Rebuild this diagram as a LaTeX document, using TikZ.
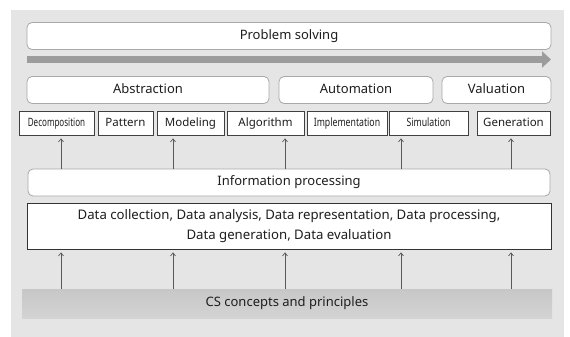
\documentclass[tikz,border=0pt]{standalone}
\usepackage{fontspec}
\setmainfont{Noto Sans}
\newfontfamily\narrowfont[FakeStretch=0.76]{Noto Sans}
\newfontfamily\narrowerfont[FakeStretch=0.70]{Noto Sans}
\usetikzlibrary{arrows.meta}

\definecolor{panelgrey}{HTML}{E5E5E5}
\definecolor{boxline}{HTML}{A8A8A8}
\definecolor{bandgrey}{HTML}{9C9C9C}
\definecolor{textgrey}{HTML}{1E1E1E}

\tikzset{
  roundbox/.style={draw=boxline, fill=white, rounded corners=5pt, line width=0.8pt,
    inner sep=0pt, minimum height=27pt, text height=9.5pt, text depth=3pt,
    text=textgrey, font=\fontsize{13}{15}\selectfont},
  smallbox/.style={draw=black!75, fill=white, line width=0.7pt, inner sep=0pt,
    minimum height=24pt, text height=8.5pt, text depth=2.5pt,
    text=textgrey, font=\fontsize{11.5}{13}\selectfont},
  uparrow/.style={draw=black!65, line width=0.7pt,
    -{Straight Barb[length=3pt,width=5pt]}, shorten >=3pt}
}

\begin{document}
\begin{tikzpicture}[x=1pt,y=-1pt]
  \useasboundingbox (0,0) rectangle (570,337);
  \fill[white] (0,0) rectangle (570,337);
  \fill[panelgrey] (11,10) rectangle (564,337);

  % top
  \node[roundbox, minimum width=524pt] (problem) at (289,36) {Problem solving};
  \coordinate (bandL) at (27,59.5);
  \coordinate (bandR) at (551,59.5);
  \draw[bandgrey, line width=7pt, -{Triangle[width=16pt,length=9pt]}] (bandL) -- (bandR);

  % categories
  \node[roundbox, minimum width=242pt] (abstr) at (148,90) {Abstraction};
  \node[roundbox, minimum width=154pt] (autom) at (356,90) {Automation};
  \node[roundbox, minimum width=109pt] (valu) at (496.5,90) {Valuation};

  \node[smallbox, minimum width=75pt] (decomp) at (56.5,123) {\narrowerfont Decomposition};
  \node[smallbox, minimum width=55pt] (pattern) at (125.5,123) {Pattern};
  \node[smallbox, minimum width=67pt] (model) at (190.5,123) {Modeling};
  \node[smallbox, minimum width=77pt] (algo) at (265.5,123) {Algorithm};
  \node[smallbox, minimum width=80pt] (impl) at (347,123) {\narrowfont Implementation};
  \node[smallbox, minimum width=79pt] (simu) at (428.5,123) {\narrowfont Simulation};
  \node[smallbox, minimum width=73pt] (gener) at (513.5,123) {Generation};

  % processing
  \node[roundbox, minimum width=522pt] (info) at (289,182.5) {Information processing};
  \node[draw=black!80, fill=white, line width=0.8pt, inner sep=0pt,
    minimum width=524pt, minimum height=46pt, align=center, text=textgrey,
    font=\fontsize{13.2}{20}\selectfont] (data) at (289,226)
    {Data collection, Data analysis, Data representation, Data processing,\\
     Data generation, Data evaluation};

  \node[top color=black!22, bottom color=black!17, inner sep=0pt,
    minimum width=530pt, minimum height=29pt, text height=9.5pt, text depth=3pt,
    text=textgrey, font=\fontsize{13}{15}\selectfont] (cs) at (287,303.5) {CS concepts and principles};

  % arrows
  \foreach \x/\b in {61/decomp,173/model,285/algo,401/simu,511/gener}
    \draw[uparrow] (info.north -| \x,0) -- (\b.south -| \x,0);
  \foreach \x in {61,173,285,401,511}
    \draw[uparrow] (cs.north -| \x,0) -- (data.south -| \x,0);
\end{tikzpicture}
\end{document}
